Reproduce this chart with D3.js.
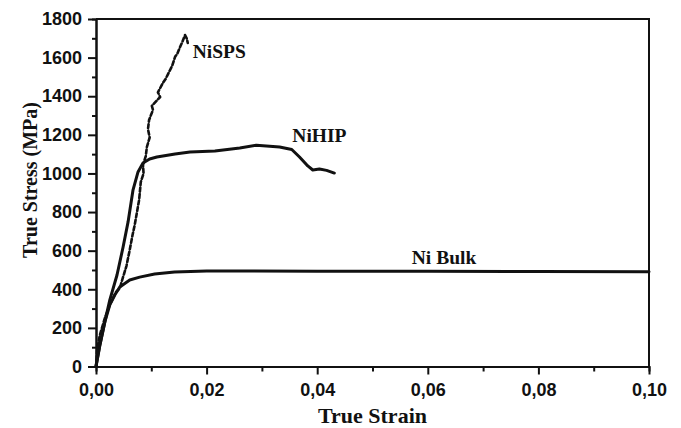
<!DOCTYPE html>
<html>
<head>
<meta charset="utf-8">
<script src="https://cdn.jsdelivr.net/npm/d3@7"></script>
<style>
  body { margin: 0; background: #fff; }
  .tick text { font-family: "Liberation Sans", Arial, sans-serif; font-weight: bold; font-size: 18px; fill: #111; }
  .axis path, .axis line { stroke: #111; stroke-width: 2px; }
  .title { font-family: "Liberation Serif", "Times New Roman", serif; font-weight: bold; fill: #111; }
  .curve { fill: none; stroke: #111; stroke-linejoin: round; stroke-linecap: round; }
</style>
</head>
<body>
<svg id="chart" width="681" height="428"></svg>
<script>
/*
** Data (strain, stress in MPa)
*/
var niSPS = [
      [0, 0], [0.0002, 85], [0.0007, 163], [0.0016, 251], [0.0025, 319]
    , [0.0036, 386], [0.0043, 405], [0.0049, 464], [0.0055, 520], [0.0061, 604]
    , [0.0066, 680], [0.0070, 733], [0.0078, 863], [0.0081, 956], [0.0086, 1000]
    , [0.0085, 1044], [0.0090, 1090], [0.0092, 1137], [0.0097, 1186], [0.0094, 1230]
    , [0.0096, 1277], [0.0103, 1329], [0.0101, 1350], [0.0116, 1396], [0.0112, 1420]
    , [0.0121, 1469], [0.0126, 1490], [0.0134, 1536], [0.0138, 1560], [0.0143, 1604]
    , [0.0147, 1620], [0.0152, 1655], [0.0156, 1680], [0.0161, 1717], [0.0164, 1700]
    , [0.0166, 1676]
  ]
  , niHIP = [
      [0, 0], [0.0007, 111], [0.0016, 231], [0.0025, 345], [0.0038, 474]
    , [0.0049, 619], [0.0058, 749], [0.0067, 915], [0.0076, 1008], [0.0085, 1054]
    , [0.0097, 1075], [0.011, 1085], [0.0143, 1101], [0.017, 1111], [0.0215, 1116]
    , [0.026, 1132], [0.029, 1146], [0.0332, 1137], [0.0354, 1124], [0.0368, 1085]
    , [0.0383, 1039], [0.0392, 1018], [0.0404, 1023], [0.0417, 1016], [0.0431, 1002]
  ]
  , niBulk = [
      [0, 0], [0.0007, 111], [0.0016, 231], [0.0025, 319], [0.0034, 370]
    , [0.0043, 412], [0.0061, 448], [0.0079, 463], [0.0106, 479], [0.0142, 490]
    , [0.02, 495], [0.04, 494], [0.06, 493], [0.08, 492], [0.1, 491]
  ]
  , curveLabels = [
      { text: "NiSPS", at: [0.0175, 1600] }
    , { text: "NiHIP", at: [0.0355, 1165] }
    , { text: "Ni Bulk", at: [0.0571, 530] }
  ]
  , xTicks = [0, 0.02, 0.04, 0.06, 0.08, 0.1]
  , yTicks = [0, 200, 400, 600, 800, 1000, 1200, 1400, 1600, 1800]
;

var svg = d3.select("#chart")
  , margin = { top: 19, right: 32, bottom: 61.5, left: 96 }
  , width = 681 - margin.left - margin.right
  , height = 428 - margin.top - margin.bottom
  , scale = { x: d3.scaleLinear(), y: d3.scaleLinear() }
  , fmt = function (d) { return d3.format(".2f")(d).replace(".", ","); }
;

scale.x.domain([0, 0.1]).range([0, width]);
scale.y.domain([0, 1800]).range([height, 0]);

var g = svg.append("g")
    .attr("transform", "translate(" + margin.left + "," + margin.top + ")")
;

/*
** Axes: minor ticks first, then labelled majors
*/
function drawAxes() {
    g.append("g")
        .attr("class", "axis")
        .attr("transform", "translate(0," + height + ")")
        .call(d3.axisBottom(scale.x).tickValues(d3.range(0.01, 0.1, 0.02)).tickSize(5).tickFormat(""))
    ;
    g.append("g")
        .attr("class", "axis")
        .attr("transform", "translate(0," + height + ")")
        .call(d3.axisBottom(scale.x).tickValues(xTicks).tickSize(8).tickSizeOuter(0).tickPadding(9).tickFormat(fmt))
    ;
    g.append("g")
        .attr("class", "axis")
        .call(d3.axisLeft(scale.y).tickValues(d3.range(100, 1800, 200)).tickSize(4).tickFormat(""))
    ;
    g.append("g")
        .attr("class", "axis")
        .call(d3.axisLeft(scale.y).tickValues(yTicks).tickSize(8).tickSizeOuter(0).tickPadding(6).tickFormat(d3.format("d")))
    ;
    // top and right frame
    g.append("path")
        .attr("d", "M0,0H" + width + "V" + height)
        .attr("fill", "none")
        .attr("stroke", "#111")
        .attr("stroke-width", 2)
    ;
} // drawAxes()

function drawCurves() {
    var line = d3.line()
        .x(function (d) { return scale.x(d[0]); })
        .y(function (d) { return scale.y(d[1]); })
    ;
    g.append("path").datum(niBulk)
        .attr("class", "curve")
        .attr("stroke-width", 3)
        .attr("d", line)
    ;
    g.append("path").datum(niHIP)
        .attr("class", "curve")
        .attr("stroke-width", 3)
        .attr("d", line)
    ;
    // NiSPS is drawn broken / dotted in the source
    g.append("path").datum(niSPS)
        .attr("class", "curve")
        .attr("stroke-width", 2.6)
        .attr("stroke-linecap", "butt")
        .attr("stroke-dasharray", "4 2.5")
        .attr("d", line)
    ;
    g.selectAll("text.label")
        .data(curveLabels)
      .enter().append("text")
        .attr("class", "title label")
        .attr("x", function (d) { return scale.x(d.at[0]); })
        .attr("y", function (d) { return scale.y(d.at[1]); })
        .attr("font-size", 19.5)
        .text(function (d) { return d.text; })
    ;
} // drawCurves()

function drawTitles() {
    svg.append("text")
        .attr("class", "title")
        .attr("x", margin.left + width / 2)
        .attr("y", 423)
        .attr("text-anchor", "middle")
        .attr("font-size", 22)
        .text("True Strain")
    ;
    svg.append("text")
        .attr("class", "title")
        .attr("transform", "translate(37,180) rotate(-90)")
        .attr("text-anchor", "middle")
        .attr("font-size", 20)
        .text("True Stress (MPa)")
    ;
} // drawTitles()

drawAxes();
drawCurves();
drawTitles();
</script>
</body>
</html>
